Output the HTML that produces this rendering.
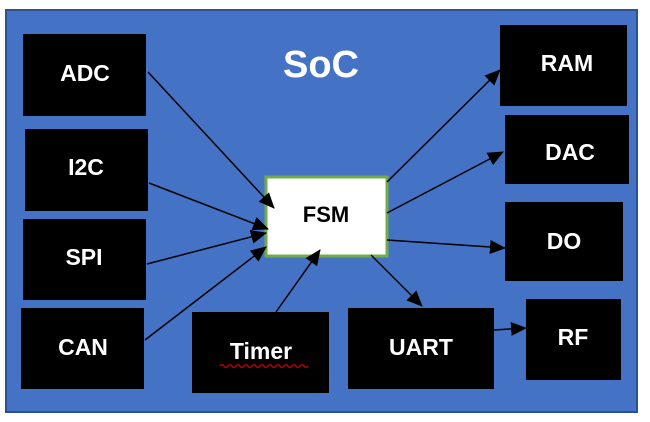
<!DOCTYPE html>
<html><head><style>
html,body{margin:0;padding:0;background:#fff;width:650px;height:422px;overflow:hidden}
svg text{font-family:"Liberation Sans",sans-serif;font-weight:bold}
</style></head><body>
<svg width="650" height="422" viewBox="0 0 650 422">
<defs>
<marker id="b" markerWidth="16" markerHeight="16" refX="15" refY="8" orient="auto" markerUnits="userSpaceOnUse" viewBox="0 0 16 16"><path d="M0,1 L16,8 L0,15 z" fill="#000"/></marker></defs>
<rect x="6" y="10" width="631" height="402" fill="#4472c4" stroke="#2f528f" stroke-width="2"/>
<text x="321" y="77" font-size="38" fill="#fff" text-anchor="middle">SoC</text>
<g fill="#000">
<rect x="23" y="34" width="123" height="82"/>
<rect x="25" y="129" width="123" height="82"/>
<rect x="23" y="219" width="123" height="81"/>
<rect x="21" y="308" width="123" height="81"/>
<rect x="192" y="312" width="137" height="81"/>
<rect x="348" y="308" width="146" height="81"/>
<rect x="526" y="299" width="95" height="81"/>
<rect x="500" y="25" width="127" height="81"/>
<rect x="505" y="115" width="124" height="69"/>
<rect x="505" y="202" width="118" height="79"/>
</g>
<rect x="266" y="177" width="121" height="79" fill="#fff" stroke="#70ad47" stroke-width="3"/>
<g fill="#fff" font-size="23" text-anchor="middle">
<text x="85" y="81">ADC</text>
<text x="86" y="175">I2C</text>
<text x="84" y="265">SPI</text>
<text x="83" y="355">CAN</text>
<text x="261" y="359">Timer</text>
<text x="421" y="355">UART</text>
<text x="573" y="345">RF</text>
<text x="567" y="71">RAM</text>
<text x="570" y="160">DAC</text>
<text x="564" y="249">DO</text>
</g>
<path d="M220,366 q2,-3 4,0 t4,0 t4,0 t4,0 t4,0 t4,0 t4,0 t4,0 t4,0 t4,0 t4,0 t4,0 t4,0 t4,0 t4,0 t4,0 t4,0 t4,0 t4,0 t4,0 t4,0 t4,0" fill="none" stroke="#c00" stroke-width="1.3"/>
<text x="326" y="222" font-size="22" text-anchor="middle" fill="#000">FSM</text>
<g stroke="#000" stroke-width="1.5" marker-end="url(#b)">
<line x1="148" y1="72" x2="274" y2="208"/>
<line x1="149" y1="183" x2="268" y2="229"/>
<line x1="147" y1="264" x2="266" y2="233"/>
<line x1="145" y1="340" x2="266" y2="247"/>
<line x1="276" y1="312" x2="320" y2="250"/>
<line x1="387" y1="182" x2="500" y2="70"/>
<line x1="387" y1="213" x2="503" y2="152"/>
<line x1="387" y1="240" x2="505" y2="248"/>
<line x1="371" y1="255" x2="422" y2="306"/>
<line x1="494" y1="330" x2="526" y2="328"/>
</g>
</svg>
</body></html>
